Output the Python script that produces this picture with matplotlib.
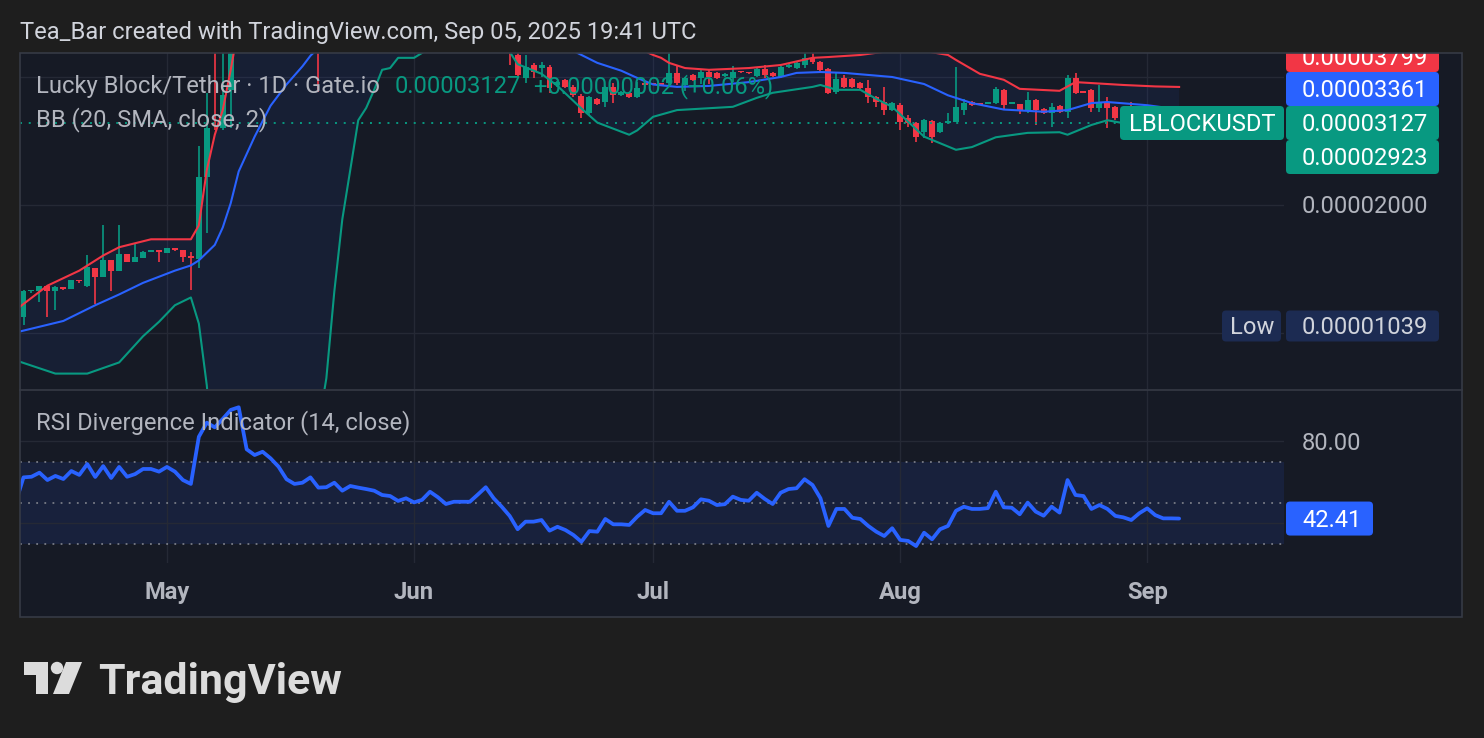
import matplotlib
matplotlib.use("Agg")
import matplotlib.pyplot as plt
from matplotlib.patches import FancyBboxPatch, Rectangle, Polygon, Circle

# ---------------- data ----------------
# day index 0 = 2025-04-13, one candle per day; prices in units of 1e-5 USDT
PRICE_UNIT = 1e-5
candle_days = list(range(0, 146))
opens = [1.09, 1.25, 1.25, 1.29, 1.25, 1.28, 1.27, 1.325, 1.29, 1.42,
         1.35, 1.48, 1.40, 1.53, 1.47, 1.50, 1.55, 1.566, 1.54, 1.58,
         1.566, 1.51, 1.49, 2.33, 5.40, 3.04, 3.74, 6.0, 7.2, 8.1,
         7.6, 8.8, 8.2, 7.4, 7.9, 7.1, 6.6, 7.0, 6.1, 6.5,
         6.2, 6.4, 6.0, 6.1, 5.9, 5.8, 5.6, 5.7, 5.5, 5.6,
         5.4, 5.5, 5.8, 5.6, 5.4, 5.45, 5.45, 5.4, 5.7, 5.9,
         5.5, 5.1, 4.52, 3.99, 4.28, 4.21, 4.23, 3.84, 3.95, 3.80,
         3.62, 3.30, 3.56, 3.50, 3.80, 3.64, 3.68, 3.60, 3.88, 3.86,
         3.87, 3.88, 4.10, 3.84, 4.05, 3.99, 4.12, 4.10, 4.03, 3.99,
         4.13, 4.11, 4.03, 4.19, 4.10, 4.01, 4.23, 4.21, 4.28, 4.44,
         4.35, 4.19, 3.70, 3.99, 3.97, 3.88, 3.78, 3.60, 3.50, 3.35,
         3.44, 3.21, 3.12, 2.97, 3.16, 2.97, 3.12, 3.14, 3.35, 3.50,
         3.46, 3.47, 3.48, 3.74, 3.47, 3.46, 3.35, 3.54, 3.37, 3.30,
         3.43, 3.32, 3.99, 3.69, 3.74, 3.39, 3.48, 3.41, 3.21, 3.35,
         3.30, 3.37, 3.20, 3.28, 3.15, 3.125]
highs = [1.26, 1.26, 1.29, 1.29, 1.29, 1.28, 1.33, 1.33, 1.52, 1.42,
         1.79, 1.48, 1.79, 1.53, 1.63, 1.56, 1.555, 1.57, 1.58, 1.58,
         1.57, 1.55, 2.75, 3.68, 5.80, 4.80, 6.50, 7.6, 8.6, 8.9,
         9.4, 9.1, 8.5, 8.3, 8.0, 7.3, 7.4, 7.2, 6.8, 6.7,
         6.7, 6.5, 6.4, 6.2, 6.1, 5.9, 5.9, 5.8, 5.8, 5.7,
         5.7, 5.9, 5.9, 5.7, 5.6, 5.6, 5.6, 5.9, 6.1, 6.0,
         5.6, 5.2, 4.80, 4.52, 4.33, 4.35, 4.28, 3.92, 3.97, 3.84,
         3.66, 3.62, 3.58, 3.82, 3.88, 3.72, 3.70, 3.90, 3.90, 3.87,
         3.88, 4.70, 4.28, 4.01, 4.08, 4.19, 4.19, 4.12, 4.09, 4.25,
         4.14, 4.12, 4.21, 4.28, 4.12, 4.25, 4.30, 4.35, 4.60, 4.60,
         4.38, 4.21, 4.12, 4.05, 3.99, 3.90, 3.94, 3.62, 3.80, 3.50,
         3.48, 3.26, 3.14, 3.20, 3.18, 3.14, 3.30, 4.23, 3.56, 3.52,
         3.47, 3.49, 3.80, 3.76, 3.49, 3.47, 3.70, 3.56, 3.39, 3.48,
         3.45, 4.05, 4.10, 3.70, 3.76, 3.84, 3.60, 3.43, 3.38, 3.50,
         3.40, 3.38, 3.31, 3.30, 3.20, 3.16]
lows = [1.039, 1.24, 1.18, 1.09, 1.13, 1.26, 1.27, 1.31, 1.28, 1.17,
        1.35, 1.25, 1.40, 1.47, 1.47, 1.50, 1.545, 1.47, 1.54, 1.56,
        1.47, 1.26, 1.42, 1.72, 3.01, 3.00, 3.04, 5.8, 6.9, 7.3,
        7.4, 7.8, 7.0, 7.1, 6.8, 6.2, 6.3, 3.70, 5.8, 5.9,
        6.0, 5.7, 5.8, 5.6, 5.5, 5.4, 5.4, 5.3, 5.3, 5.2,
        5.2, 5.4, 5.4, 5.2, 5.2, 5.3, 5.2, 5.3, 5.5, 5.2,
        4.9, 4.28, 4.00, 3.88, 3.99, 4.00, 3.68, 3.80, 3.78, 3.60,
        3.21, 3.26, 3.44, 3.41, 3.48, 3.62, 3.58, 3.58, 3.83, 3.84,
        3.83, 3.84, 3.84, 3.72, 3.93, 3.86, 3.86, 3.97, 4.01, 3.90,
        4.10, 4.08, 4.01, 3.99, 4.02, 3.99, 4.21, 4.19, 4.21, 4.30,
        4.15, 3.66, 3.66, 3.78, 3.78, 3.76, 3.48, 3.40, 3.26, 3.33,
        3.01, 3.06, 2.82, 2.88, 2.80, 2.95, 3.10, 3.14, 3.26, 3.42,
        3.44, 3.46, 3.47, 3.35, 3.46, 3.28, 3.30, 3.09, 3.28, 3.06,
        3.30, 3.21, 3.66, 3.67, 3.32, 3.32, 3.04, 3.17, 3.18, 3.28,
        3.25, 3.15, 3.17, 3.12, 3.10, 3.10]
closes = [1.25, 1.25, 1.29, 1.25, 1.28, 1.27, 1.33, 1.32, 1.43, 1.35,
          1.48, 1.40, 1.53, 1.47, 1.51, 1.55, 1.55, 1.55, 1.58, 1.566,
          1.51, 1.50, 2.33, 3.04, 4.70, 3.64, 6.00, 7.2, 8.1, 7.6,
          8.8, 8.2, 7.4, 7.9, 7.1, 6.6, 7.0, 6.1, 6.5, 6.2,
          6.4, 6.0, 6.1, 5.9, 5.8, 5.6, 5.7, 5.5, 5.6, 5.4,
          5.5, 5.8, 5.6, 5.4, 5.45, 5.45, 5.4, 5.7, 5.9, 5.5,
          5.1, 4.62, 4.05, 4.23, 4.12, 4.28, 3.78, 3.90, 3.80, 3.64,
          3.30, 3.60, 3.46, 3.80, 3.64, 3.70, 3.60, 3.78, 3.84, 3.85,
          3.84, 4.10, 3.88, 3.99, 3.95, 4.12, 4.01, 3.99, 4.07, 4.12,
          4.11, 4.09, 4.19, 4.05, 4.03, 4.23, 4.28, 4.33, 4.44, 4.35,
          4.17, 3.68, 3.97, 3.80, 3.80, 3.78, 3.60, 3.50, 3.35, 3.48,
          3.14, 3.12, 2.89, 3.17, 2.89, 3.12, 3.16, 3.41, 3.48, 3.44,
          3.45, 3.48, 3.76, 3.44, 3.48, 3.35, 3.54, 3.35, 3.30, 3.41,
          3.32, 3.99, 3.68, 3.68, 3.39, 3.48, 3.39, 3.21, 3.35, 3.30,
          3.37, 3.20, 3.28, 3.15, 3.125, 3.127]

# Bollinger Bands (20, SMA, close, 2) at key days
upper_days = [-1, 3, 7, 10, 12, 16, 21, 22, 23, 24, 25, 26, 27, 30, 40, 50, 60, 70, 76,
              79, 80, 81, 83, 86, 91, 95, 99, 101, 105, 108, 113, 116, 117, 120, 123,
              125, 130, 132, 134, 138, 142, 145]
upper_vals = [1.13, 1.29, 1.40, 1.52, 1.59, 1.66, 1.66, 1.79, 2.42, 2.93, 3.35, 4.17, 5.3,
              7.5, 9.5, 9.0, 7.5, 5.6, 4.8, 4.52, 4.45, 4.33, 4.21, 4.17, 4.21, 4.28, 4.45,
              4.47, 4.52, 4.60, 4.62, 4.52, 4.40, 4.08, 3.95, 3.76, 3.72, 3.90, 3.88, 3.84,
              3.81, 3.799]
basis_days = [-1, 5, 9, 12, 15, 19, 21, 22, 24, 25, 26, 27, 29, 31, 33, 35, 36, 38, 45, 55,
              62, 67, 69, 72, 75, 77, 79, 82, 86, 91, 95, 97, 100, 103, 107, 109, 113, 116,
              119, 123, 128, 131, 134, 136, 141, 145]
basis_vals = [1.00, 1.065, 1.16, 1.23, 1.31, 1.40, 1.44, 1.48, 1.61, 1.77, 2.02, 2.40, 2.90,
              3.43, 3.85, 4.25, 4.5, 4.9, 5.9, 6.1, 5.5, 4.9, 4.62, 4.33, 4.15, 3.99, 3.85,
              3.80, 3.82, 3.90, 4.01, 4.10, 4.12, 4.10, 4.04, 4.01, 3.86, 3.63, 3.48, 3.36,
              3.32, 3.35, 3.48, 3.50, 3.44, 3.361]
lower_days = [-1, 4, 8, 12, 15, 17, 19, 21, 22, 23, 24, 30, 36, 37, 38, 39, 40, 41, 42, 43,
              44, 45, 46, 47, 49, 50, 53, 58, 61, 62, 65, 67, 70, 72, 76, 77, 79, 82, 89, 92,
              94, 99, 100, 102, 105, 107, 109, 113, 117, 119, 122, 126, 130, 131, 134, 136,
              138, 142, 145]
lower_vals = [0.86, 0.80, 0.80, 0.85, 0.98, 1.06, 1.16, 1.21, 1.05, 0.75, 0.45, 0.2, 0.4,
              0.6, 0.78, 1.25, 1.85, 2.42, 3.17, 3.39, 3.74, 4.17, 4.21, 4.45, 4.45, 4.57,
              4.95, 4.85, 4.60, 4.30, 4.08, 3.82, 3.38, 3.13, 2.93, 3.0, 3.23, 3.35, 3.41,
              3.58, 3.68, 3.80, 3.84, 3.74, 3.74, 3.56, 3.41, 2.90, 2.70, 2.74, 2.89, 2.96,
              2.97, 2.93, 3.09, 3.17, 3.12, 3.0, 2.923]

# RSI (14, close)
rsi_days = list(range(-1, 146))
rsi_values = [50.0, 62.5, 62.8, 64.8, 61.2, 63.2, 61.7, 65.6, 63.7, 69.0,
              62.7, 68.0, 62.2, 67.6, 62.8, 64.1, 66.6, 66.6, 65.3, 67.6,
              65.3, 61.2, 59.3, 82.3, 89.2, 86.9, 91.0, 95.4, 96.7, 76.2,
              73.4, 75.0, 71.8, 67.7, 61.6, 59.3, 59.9, 62.5, 57.5, 57.7,
              59.9, 56.0, 58.3, 57.5, 56.8, 56.0, 53.9, 53.4, 51.0, 52.3,
              50.3, 51.5, 55.5, 52.8, 49.5, 50.6, 50.6, 50.6, 54.1, 57.7,
              52.3, 48.2, 43.7, 37.2, 40.9, 40.9, 41.7, 36.5, 38.4, 36.8,
              34.4, 31.1, 36.3, 36.0, 42.2, 39.6, 39.6, 39.3, 43.3, 46.6,
              45.0, 45.0, 50.6, 46.2, 46.2, 47.9, 51.8, 51.1, 49.0, 49.4,
              53.1, 51.5, 51.1, 55.0, 52.0, 49.5, 55.0, 56.8, 57.2, 61.6,
              58.8, 52.3, 38.8, 47.1, 47.1, 42.8, 42.2, 38.8, 36.0, 33.9,
              37.7, 32.0, 31.5, 29.0, 35.5, 32.3, 37.2, 38.8, 46.2, 48.2,
              47.1, 47.1, 47.5, 55.5, 47.9, 47.7, 44.5, 50.2, 45.8, 43.8,
              48.2, 45.3, 61.2, 53.9, 53.4, 47.1, 49.0, 47.1, 43.7, 43.0,
              41.7, 45.0, 47.4, 44.1, 42.5, 42.5, 42.41]

month_days = [18, 49, 79, 110, 141]
month_labels = ["May", "Jun", "Jul", "Aug", "Sep"]
price_grid = [1.0, 2.0, 4.0]
price_axis_label = 2.0
rsi_grid = [40, 80]
rsi_axis_label = 80
rsi_levels = [30, 50, 70]

# ---------------- style ----------------
W, H = 1484, 738
BG_OUT = "#1e1e1e"
BG = "#161a25"
GRID = "#252935"
TXT = "#b2b5be"
UP = "#089981"
DOWN = "#f23645"
BLUE = "#2962ff"
FS = 17.1

plt.rcParams["font.family"] = ["Roboto", "DejaVu Sans"]

fig = plt.figure(figsize=(W / 100, H / 100), dpi=100, facecolor=BG_OUT)


def frac(x0, y0, x1, y1):
    return [x0 / W, 1 - y1 / H, (x1 - x0) / W, (y1 - y0) / H]


fig.add_artist(Rectangle((20 / W, 1 - 617 / H), 1442 / W, 564 / H,
                         transform=fig.transFigure, facecolor=BG,
                         edgecolor="none", zorder=-5))

XLIM = (-0.44, 158.16)

# ---- price pane ----
axp = fig.add_axes(frac(20, 53, 1284, 389))
axp.set_yscale("log")
axp.set_xlim(*XLIM)
axp.set_ylim(0.73576, 4.5687)
axp.axis("off")

for g in price_grid:
    axp.axhline(g, color=GRID, lw=1, zorder=0)
for d in month_days:
    axp.axvline(d, color=GRID, lw=1, zorder=0)

band = list(zip(upper_days, upper_vals)) + list(zip(lower_days[::-1], lower_vals[::-1]))
axp.add_patch(Polygon(band, closed=True, facecolor=BLUE, alpha=0.07,
                      edgecolor="none", zorder=1))

cols = [UP if c >= o else DOWN for o, c in zip(opens, closes)]
axp.vlines(candle_days, lows, highs, colors=cols, lw=1.2, zorder=2)
bottoms = [min(o, c) for o, c in zip(opens, closes)]
tops = [max(max(o, c), min(o, c) * 1.009) for o, c in zip(opens, closes)]
axp.bar(candle_days, [t - b for t, b in zip(tops, bottoms)], bottom=bottoms,
        width=0.75, color=cols, edgecolor="none", zorder=3)

axp.plot(upper_days, upper_vals, color=DOWN, lw=1.5, zorder=4)
axp.plot(basis_days, basis_vals, color=BLUE, lw=1.5, zorder=4)
axp.plot(lower_days, lower_vals, color=UP, lw=1.5, zorder=4)
axp.axhline(closes[-1], color=UP, lw=1.4, ls=(0, (1, 3.5)), zorder=5)

# ---- RSI pane ----
axr = fig.add_axes(frac(20, 390, 1284, 563))
axr.set_xlim(*XLIM)
axr.set_ylim(20.73, 105.12)
axr.axis("off")
axr.axhspan(min(rsi_levels), max(rsi_levels), color=BLUE, alpha=0.11, lw=0, zorder=0)
for g in rsi_grid:
    axr.axhline(g, color=GRID, lw=1, zorder=1)
for d in month_days:
    axr.axvline(d, color=GRID, lw=1, zorder=1)
for lv in rsi_levels:
    axr.axhline(lv, color="#787b86", lw=1.3, ls=(0, (1, 3.5)), zorder=2)
axr.plot(rsi_days, rsi_values, color=BLUE, lw=2.7, zorder=5,
         solid_joinstyle="round", solid_capstyle="round")

# ---- overlay in pixel coordinates (y down) ----
ov = fig.add_axes([0, 0, 1, 1], facecolor="none")
ov.set_xlim(0, W)
ov.set_ylim(H, 0)
ov.axis("off")
ov.set_zorder(10)


def ptext(x, yc, s, size=FS, color=TXT, weight="normal", ha="left", z=3):
    px = size * 100 / 72
    return ov.text(x, yc + 0.355 * px, s, fontsize=size, color=color, fontweight=weight,
                   ha=ha, va="baseline", zorder=z)


def box(x0, y0, x1, y1, color, r=4):
    p = FancyBboxPatch((x0, y0), x1 - x0, y1 - y0,
                       boxstyle=f"round,pad=0,rounding_size={r}",
                       fc=color, ec="none", zorder=2)
    ov.add_patch(p)
    return p


def py_price(p):
    return H - axp.transData.transform((0, p))[1]


def py_rsi(v):
    return H - axr.transData.transform((0, v))[1]


def px_day(d):
    return axr.transData.transform((d, 50))[0]


# header
ptext(20, 31, "Tea_Bar created with TradingView.com, Sep 05, 2025 19:41 UTC", color="#d1d4dc")

# legends
ptext(36, 85, "Lucky Block/Tether · 1D · Gate.io")
chg = closes[-1] - closes[-2]
pct = chg / closes[-2] * 100
ptext(395, 85, f"{closes[-1] * PRICE_UNIT:.8f}", color=UP)
ptext(534, 85, f"{chg * PRICE_UNIT:+.8f} ({pct:+.2f}%)", color=UP)
ptext(36, 118, "BB (20, SMA, close, 2)")
ptext(36, 421, "RSI Divergence Indicator (14, close)")

# price axis labels
ptext(1302, py_price(price_axis_label), f"{price_axis_label * PRICE_UNIT:.8f}")
ptext(1302, py_rsi(rsi_axis_label), f"{rsi_axis_label:.2f}")

box(1286, 40, 1439, 72, DOWN)
ptext(1302, 57, f"{upper_vals[-1] * PRICE_UNIT:.8f}", color="white")
# mask the part of the top label that sits above the chart frame
ov.add_patch(Rectangle((1200, 0), 284, 52.5, fc=BG_OUT, ec="none", zorder=4))
box(1286, 72, 1439, 106, BLUE)
ptext(1302, 89, f"{basis_vals[-1] * PRICE_UNIT:.8f}", color="white")
box(1286, 106, 1439, 140, UP)
ptext(1302, 123, f"{closes[-1] * PRICE_UNIT:.8f}", color="white")
box(1286, 140, 1439, 174, UP)
ptext(1302, 157, f"{lower_vals[-1] * PRICE_UNIT:.8f}", color="white")

box(1120, 106, 1284, 140, UP)
ptext(1202, 123, "LBLOCKUSDT", color="white", ha="center")

low_y = py_price(min(lows))
box(1222, low_y - 15, 1281, low_y + 16, "#1c2b52")
ptext(1252, low_y, "Low", color="#d1d4dc", ha="center")
box(1286, low_y - 15, 1439, low_y + 16, "#1c2b52")
ptext(1302, low_y, f"{min(lows) * PRICE_UNIT:.8f}", color="#d1d4dc")

ry = py_rsi(rsi_values[-1])
box(1286, ry - 17, 1373, ry + 17, BLUE)
ptext(1302, ry, f"{rsi_values[-1]:.2f}", color="white")

# frame & separator
ov.add_patch(Rectangle((20, 53), 1442, 564, fill=False, ec="#363a45", lw=1.2, zorder=5))
ov.plot([20, 1462], [389.5, 389.5], color="#363a45", lw=1.2, zorder=5)

# time axis
for d, lab in zip(month_days, month_labels):
    ptext(px_day(d), 591, lab, weight="bold", ha="center")

# TradingView logo
LOGO = "#dcdcdc"
ov.add_patch(Polygon([(24, 662), (48, 662), (48, 694), (36, 694), (36, 675), (24, 675)],
                     closed=True, fc=LOGO, ec="none"))
ov.add_patch(Circle((57, 668), 6.2, fc=LOGO, ec="none"))
ov.add_patch(Polygon([(66, 662), (82, 662), (69, 694), (53, 694)], closed=True, fc=LOGO, ec="none"))
ov.text(98, 694, "TradingView", fontsize=31, fontweight="bold", color=LOGO,
        ha="left", va="baseline")

fig.savefig("out.png", dpi=100, facecolor=BG_OUT)
